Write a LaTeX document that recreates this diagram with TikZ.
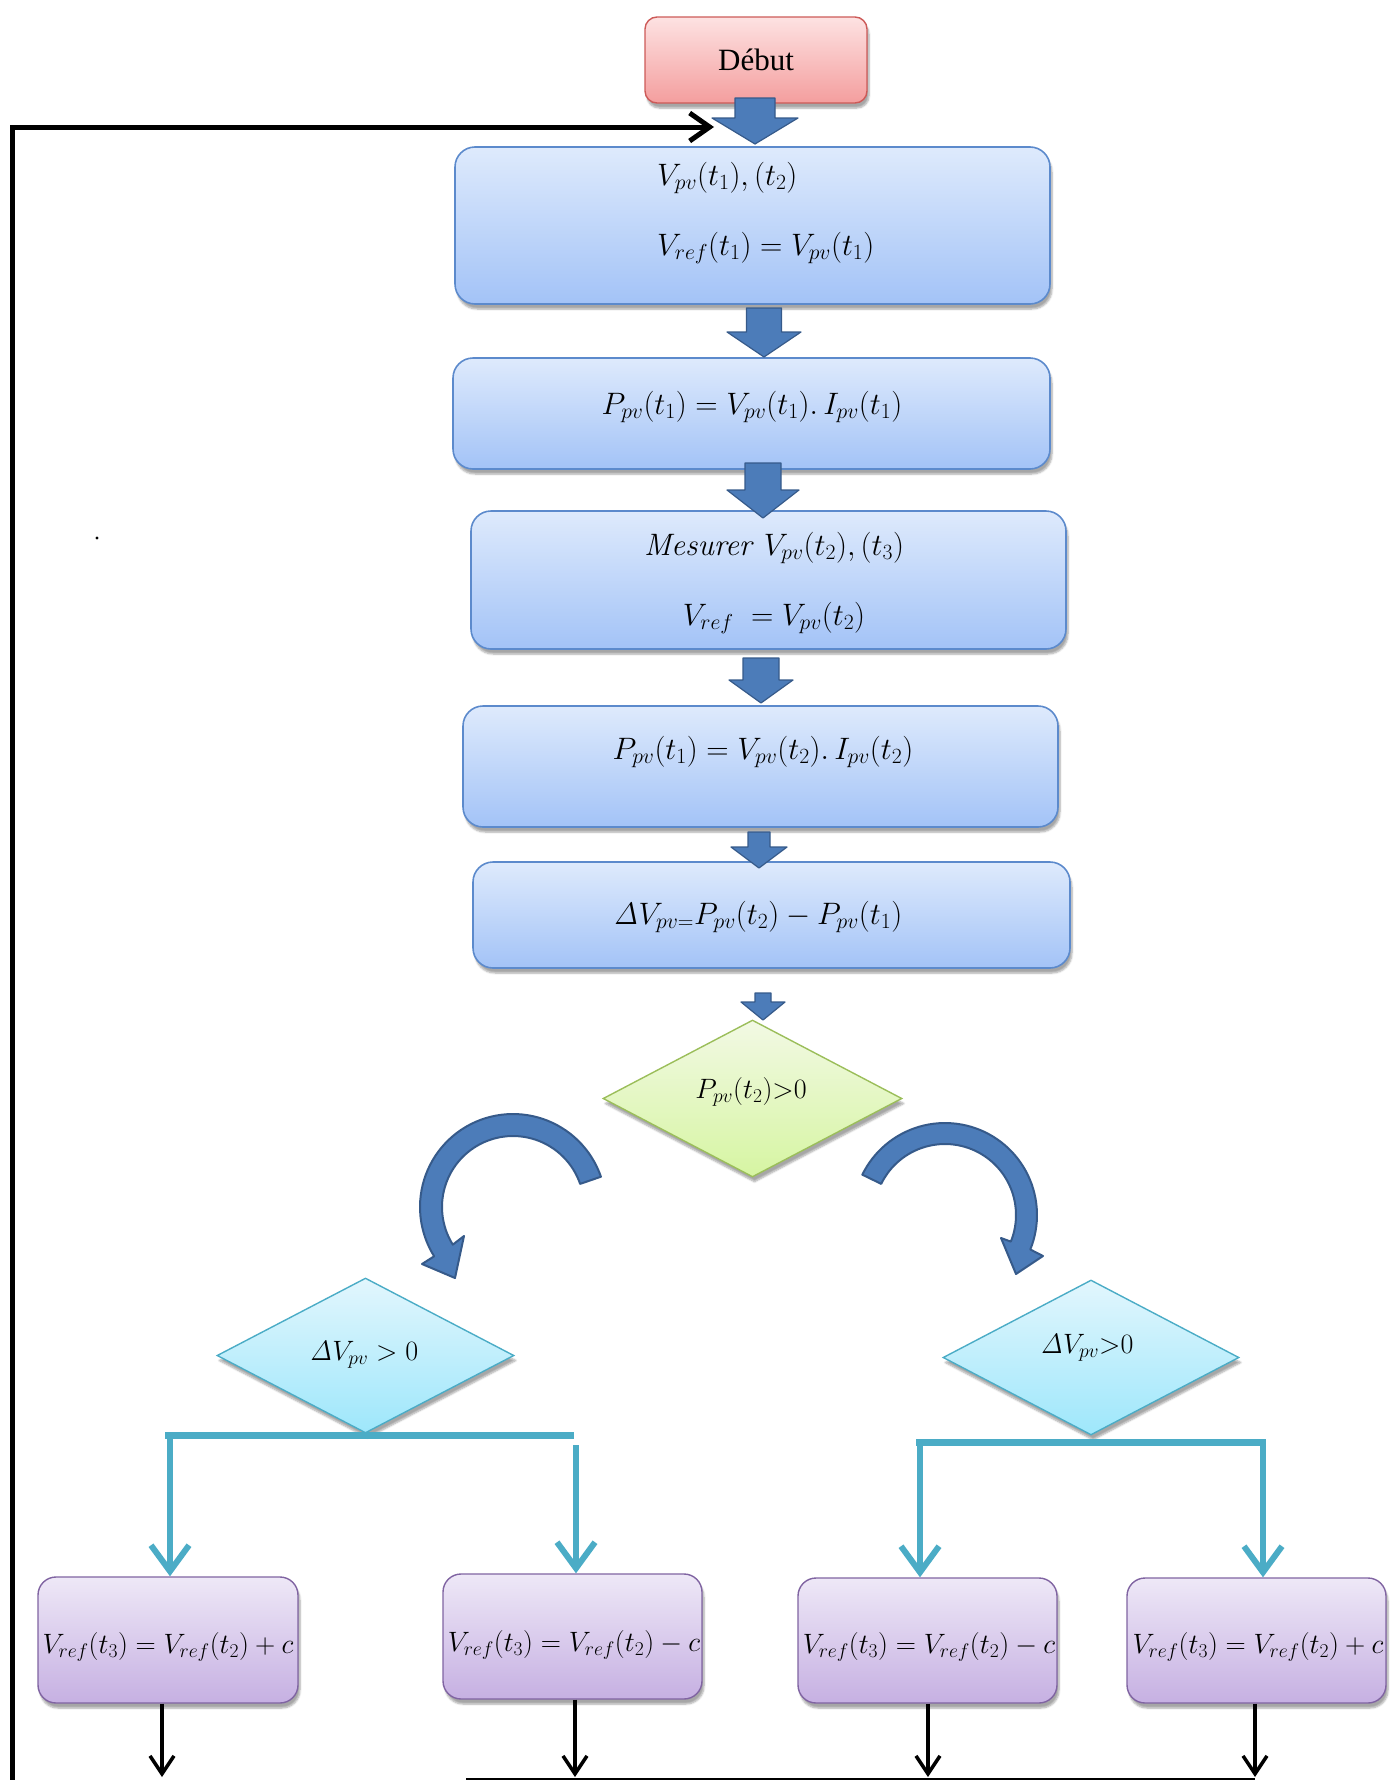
\documentclass[tikz,border=0pt]{standalone}
\usepackage{fix-cm}
\usepackage[no-math]{fontspec}
\setmainfont{Liberation Serif}
\usetikzlibrary{shapes.geometric,arrows.meta,shadows.blur,calc}
\definecolor{bxtop}{RGB}{222,234,252}
\definecolor{bxbot}{RGB}{163,195,247}
\definecolor{bxdraw}{RGB}{92,138,204}
\definecolor{arfill}{RGB}{76,124,185}
\definecolor{ardraw}{RGB}{54,90,138}
\definecolor{rdtop}{RGB}{253,226,226}
\definecolor{rdbot}{RGB}{244,158,158}
\definecolor{rddraw}{RGB}{205,90,88}
\definecolor{grtop}{RGB}{242,249,228}
\definecolor{grbot}{RGB}{214,245,162}
\definecolor{grdraw}{RGB}{155,190,90}
\definecolor{cytop}{RGB}{226,246,253}
\definecolor{cybot}{RGB}{158,231,251}
\definecolor{cydraw}{RGB}{75,172,198}
\definecolor{pptop}{RGB}{238,232,247}
\definecolor{ppbot}{RGB}{198,176,226}
\definecolor{ppdraw}{RGB}{128,100,162}
\newcommand\blkarr[6]{%
  \filldraw[blockarrow] ({#1-#5},{#2}) -- ({#1+#5},{#2}) -- ({#1+#5},{#3}) -- ({#1+#6},{#3}) -- ({#1},{#4}) -- ({#1-#6},{#3}) -- ({#1-#5},{#3}) -- cycle;}
\begin{document}
\begin{tikzpicture}[x=1pt,y=-1pt,
  shad/.style={blur shadow={shadow xshift=2pt,shadow yshift=-5pt,shadow blur steps=6,shadow opacity=35}},
  bluebox/.style={shad,draw=bxdraw,line width=1.6pt,rounded corners=20pt,top color=bxtop,bottom color=bxbot,inner sep=0pt},
  startbox/.style={shad,draw=rddraw,line width=1.4pt,rounded corners=12pt,top color=rdtop,bottom color=rdbot,inner sep=0pt},
  purplebox/.style={shad,draw=ppdraw,line width=1.4pt,rounded corners=18pt,top color=pptop,bottom color=ppbot,inner sep=0pt},
  greendia/.style={shad,diamond,draw=grdraw,line width=1.4pt,top color=grtop,bottom color=grbot,inner sep=0pt},
  cyandia/.style={shad,diamond,draw=cydraw,line width=1.4pt,top color=cytop,bottom color=cybot,inner sep=0pt},
  blockarrow/.style={fill=arfill,draw=ardraw,line width=1.2pt,line join=round},
  curvarrow/.style={fill=arfill,draw=ardraw,line width=2pt,line join=round},
  txt/.style={inner sep=0pt,font={\fontsize{28}{34}\selectfont}},
  btxt/.style={inner sep=0pt,font={\fontsize{31}{37}\selectfont}},
  cyanline/.style={draw=cydraw,line width=7pt},
  cyanarrow/.style={draw=cydraw,line width=6pt,-{Straight Barb[length=26pt,width=38pt]}},
  blkline/.style={draw=black,line width=3.5pt,-{Straight Barb[length=18pt,width=24pt]}},
  loopline/.style={draw=black,line width=5pt,-{Straight Barb[length=20pt,width=28pt]}}]
\useasboundingbox (0,0) rectangle (1391,1780);

% boxes
\node[startbox,minimum width=222pt,minimum height=86pt] (deb) at (756,60) {\fontsize{31}{36}\selectfont Début};
\node[bluebox,minimum width=595pt,minimum height=157pt] (b1) at (752.5,225.5) {};
\node[bluebox,minimum width=597pt,minimum height=111pt] (b2) at (751.5,413.5) {};
\node[bluebox,minimum width=595pt,minimum height=138pt] (b3) at (768.5,580) {};
\node[bluebox,minimum width=595pt,minimum height=121pt] (b4) at (760.5,766.5) {};
\node[bluebox,minimum width=597pt,minimum height=106pt] (b5) at (771.5,915) {};
\node[greendia,minimum width=299pt,minimum height=157pt] (d1) at (752.5,1098.5) {};
\node[cyandia,minimum width=297pt,minimum height=155pt] (d2) at (365.5,1355.5) {};
\node[cyandia,minimum width=296pt,minimum height=155pt] (d3) at (1091,1357.5) {};
\node[purplebox,minimum width=260pt,minimum height=126pt] (p1) at (168,1640) {};
\node[purplebox,minimum width=259pt,minimum height=125pt] (p2) at (572.5,1636.5) {};
\node[purplebox,minimum width=259pt,minimum height=125pt] (p3) at (927.5,1640.5) {};
\node[purplebox,minimum width=259pt,minimum height=125pt] (p4) at (1256.5,1640.5) {};

% texts
\node[btxt,anchor=west] (t1a) at (657,178) {$V_{pv}(t_1),(t_2)$};
\node[btxt,anchor=west] (t1b) at (657,248) {$V_{ref}(t_1)=V_{pv}(t_1)$};
\node[btxt] (t2) at (752,407) {$P_{pv}(t_1)=V_{pv}(t_1).\,I_{pv}(t_1)$};
\node[btxt] (t3a) at (774,548) {$\mathit{Mesurer}\;V_{pv}(t_2),(t_3)$};
\node[btxt] (t3b) at (774,618) {$V_{ref}\;=V_{pv}(t_2)$};
\node[btxt] (t4) at (763,752) {$P_{pv}(t_1)=V_{pv}(t_2).\,I_{pv}(t_2)$};
\node[btxt] (t5) at (758,917) {$\mathit{\Delta}V_{pv=}P_{pv}(t_2)-P_{pv}(t_1)$};
\node[txt] (td1) at (751,1092) {$P_{pv}(t_2){>}0$};
\node[txt] (td2) at (364,1355) {$\mathit{\Delta}V_{pv}>0$};
\node[txt] (td3) at (1087,1348) {$\mathit{\Delta}V_{pv}{>}0$};
\node[txt] (tp1) at (168,1647) {$V_{ref}(t_3)=V_{ref}(t_2)+c$};
\node[txt] (tp2) at (574,1645) {$V_{ref}(t_3)=V_{ref}(t_2)-c$};
\node[txt] (tp3) at (929,1647) {$V_{ref}(t_3)=V_{ref}(t_2)-c$};
\node[txt] (tp4) at (1258,1647) {$V_{ref}(t_3)=V_{ref}(t_2)+c$};

% block arrows between boxes
\blkarr{755}{98}{118}{144}{20}{43}
\blkarr{764}{308}{332}{357}{17.5}{37}
\blkarr{763}{463}{490}{518}{18}{36}
\blkarr{761}{658}{680}{703}{18}{32}
\blkarr{759}{832}{847}{868}{11}{28}
\blkarr{763}{993}{1002}{1020}{8}{22}

% curved arrows
\filldraw[curvarrow] plot[domain=-19:-212,samples=60] ({513+93*cos(\x)},{1207+93*sin(\x)})
  -- (422,1264) -- (455,1278) -- (464,1236)
  -- plot[domain=-212:-19,samples=60] ({513+71*cos(\x)},{1207+71*sin(\x)}) -- cycle;
\filldraw[curvarrow] plot[domain=-154:22,samples=60] ({945+92*cos(\x)},{1215+92*sin(\x)})
  -- (1043,1256) -- (1016,1274) -- (1001,1238)
  -- plot[domain=22:-154,samples=60] ({945+71*cos(\x)},{1215+71*sin(\x)}) -- cycle;

% cyan connectors
\coordinate (lbl) at (165,1435);
\coordinate (lbr) at (574,1435);
\coordinate (lv1) at (170,1435);
\coordinate (lv2) at (576,1445);
\draw[cyanline] (lbl) -- (lbr);
\draw[cyanarrow] (lv1) -- (lv1 |- p1.north);
\draw[cyanarrow] (lv2) -- (lv2 |- p2.north);
\coordinate (rbl) at (916,1442);
\coordinate (rbr) at (1266,1442);
\coordinate (rv1) at (920,1442);
\coordinate (rv2) at (1263,1442);
\draw[cyanline] (rbl) -- (rbr);
\draw[cyanarrow] (rv1) -- (rv1 |- p3.north);
\draw[cyanarrow] (rv2) -- (rv2 |- p4.north);

% black output arrows
\coordinate (e1) at (162,1777);
\coordinate (e2) at (575,1777);
\coordinate (e3) at (928,1777);
\coordinate (e4) at (1255,1777);
\draw[blkline] (e1 |- p1.south) -- (e1);
\draw[blkline] (e2 |- p2.south) -- (e2);
\draw[blkline] (e3 |- p3.south) -- (e3);
\draw[blkline] (e4 |- p4.south) -- (e4);
\coordinate (bl) at (466,1779);
\coordinate (br) at (1255,1779);
\draw[black,line width=2.5pt] (bl) -- (br);

% loop back line
\coordinate (lb) at (12,1782);
\coordinate (lt) at (12,127);
\coordinate (la) at (714,127);
\draw[loopline] (lb) -- (lt) -- (la);

% stray dot
\fill[black] (97,538) circle (1.6pt);
\end{tikzpicture}
\end{document}
